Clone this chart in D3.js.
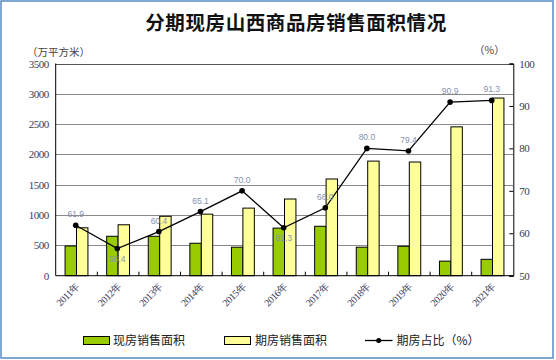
<!DOCTYPE html>
<html><head><meta charset="utf-8">
<script src="https://cdn.jsdelivr.net/npm/d3@7"></script>
<style>body{margin:0;background:#fff;} svg{display:block;}</style>
</head><body>
<svg id="c" width="556" height="360"></svg>
<script>
const years = ["2011年","2012年","2013年","2014年","2015年","2016年","2017年","2018年","2019年","2020年","2021年"];
const spotArea = [490, 650, 650, 535, 470, 785, 815, 470, 485, 240, 270];
const futureArea = [790, 840, 980, 1015, 1115, 1265, 1595, 1890, 1875, 2455, 2930];
const futureShare = [61.9, 56.4, 60.4, 65.1, 70.0, 61.3, 66.0, 80.0, 79.4, 90.9, 91.3];
const leftTicks = [0,500,1000,1500,2000,2500,3000,3500];
const rightTicks = [50,60,70,80,90,100];
const seriesNames = ["现房销售面积","期房销售面积","期房占比（%）"];
const title = "分期现房山西商品房销售面积情况";

const svg = d3.select("#c");
const L = 55.7, R = 513.3, T = 63.5, B = 275.7;
const serif = "'Liberation Serif','DejaVu Serif',serif";
const cjk = "'Noto Sans CJK SC','Noto Sans',sans-serif";

// frame
svg.append("rect").attr("x",1).attr("y",1).attr("width",552).attr("height",357)
  .attr("fill","none").attr("stroke","#5a8ac4").attr("stroke-width",1.5);

svg.append("text").attr("x",296).attr("y",30).attr("text-anchor","middle")
  .attr("font-family",cjk).attr("font-weight","bold").attr("font-size",19.5)
  .attr("letter-spacing","0.6px").attr("fill","#111").text(title);

svg.append("text").attr("x",27).attr("y",56).attr("font-family",cjk).attr("font-size",10.5)
  .attr("fill","#444").text("（万平方米）");
svg.append("text").attr("x",474).attr("y",54).attr("font-family",cjk).attr("font-size",10.5)
  .attr("fill","#444").text("（%）");

const x = d3.scaleBand().domain(years).range([L,R]).padding(0);
const yL = d3.scaleLinear().domain([0,3500]).range([B,T]);
const yR = d3.scaleLinear().domain([50,100]).range([B,T]);
const bw = x.bandwidth()*0.275;

// gridlines
svg.append("g").selectAll("line").data(leftTicks.filter(d=>d>0)).join("line")
  .attr("x1",L).attr("x2",R).attr("y1",d=>Math.round(yL(d))+0.5).attr("y2",d=>Math.round(yL(d))+0.5)
  .attr("stroke",d=>d===3500?"#555":"#8a8a8a").attr("stroke-width",1);

// left axis labels
const gl = svg.append("g").attr("transform",`translate(${L},0)`)
  .call(d3.axisLeft(yL).tickValues(leftTicks).tickSize(0).tickPadding(7).tickFormat(d3.format("d")));
gl.select(".domain").remove();
gl.selectAll("text").attr("font-family",serif).attr("font-size",11).attr("fill","#3a3a5a").attr("letter-spacing","-0.5px");

// right axis
const gr = svg.append("g").attr("transform",`translate(${R},0)`)
  .call(d3.axisRight(yR).tickValues(rightTicks).tickSize(-4).tickPadding(6).tickFormat(d3.format("d")));
gr.select(".domain").attr("stroke","#000");
gr.selectAll(".tick line").attr("stroke","#000");
gr.selectAll("text").attr("font-family",serif).attr("font-size",11).attr("fill","#3a3a5a").attr("letter-spacing","-0.5px");

// bars
svg.append("g").selectAll("rect").data(years).join("rect")
  .attr("x",d=>x(d)+x.bandwidth()/2-bw).attr("width",bw)
  .attr("y",(d,i)=>yL(spotArea[i])).attr("height",(d,i)=>B-yL(spotArea[i]))
  .attr("fill","#99cc00").attr("stroke","#000").attr("stroke-width",1);
svg.append("g").selectAll("rect").data(years).join("rect")
  .attr("x",d=>x(d)+x.bandwidth()/2).attr("width",bw)
  .attr("y",(d,i)=>yL(futureArea[i])).attr("height",(d,i)=>B-yL(futureArea[i]))
  .attr("fill","#ffff99").attr("stroke","#000").attr("stroke-width",1);

// left axis line
svg.append("line").attr("x1",L).attr("x2",L).attr("y1",T).attr("y2",B).attr("stroke","#000");

// bottom axis
const gb = svg.append("g").attr("transform",`translate(0,${B})`);
gb.append("line").attr("x1",L).attr("x2",R).attr("y1",0).attr("y2",0).attr("stroke","#000");
gb.selectAll("line.t").data(years.slice(1)).join("line").attr("class","t")
  .attr("x1",d=>x(d)).attr("x2",d=>x(d)).attr("y1",0).attr("y2",-4).attr("stroke","#000");
gb.selectAll("text").data(years).join("text")
  .attr("transform",d=>`translate(${x(d)+x.bandwidth()/2+1},${9}) rotate(-45)`)
  .attr("text-anchor","end").attr("dy","0.35em")
  .attr("font-family",serif).attr("font-size",10).attr("fill","#3a3a5a").attr("letter-spacing","-0.4px")
  .text(d=>d);

// line
const cx = d=>x(d)+x.bandwidth()/2 - 0.8;
const line = d3.line().x((d,i)=>cx(years[i])).y(d=>yR(d));
svg.append("path").datum(futureShare).attr("d",line).attr("fill","none").attr("stroke","#000").attr("stroke-width",1.3);
svg.append("g").selectAll("circle").data(futureShare).join("circle")
  .attr("cx",(d,i)=>cx(years[i])).attr("cy",d=>yR(d)).attr("r",2.8).attr("fill","#000");

// labels
const below = (i)=> i>0 && i<futureShare.length-1 && futureShare[i] < futureShare[i-1]-2 && futureShare[i] < futureShare[i+1]-2;
svg.append("g").selectAll("text").data(futureShare).join("text")
  .attr("x",(d,i)=>cx(years[i]))
  .attr("y",(d,i)=>yR(d) + (below(i)? 13 : -8))
  .attr("text-anchor","middle").attr("font-family","'Liberation Sans',Arial,sans-serif")
  .attr("font-size",8.5).attr("fill","#8592b0")
  .text(d=>d.toFixed(1));

// legend
const lg = svg.append("g").attr("font-family",cjk).attr("font-size",12).attr("fill","#222");
lg.append("rect").attr("x",83.5).attr("y",336.5).attr("width",26).attr("height",8).attr("fill","#99cc00").attr("stroke","#000");
lg.append("text").attr("x",113).attr("y",345).text(seriesNames[0]);
lg.append("rect").attr("x",224.5).attr("y",336.5).attr("width",26).attr("height",8).attr("fill","#ffff99").attr("stroke","#000");
lg.append("text").attr("x",255).attr("y",345).text(seriesNames[1]);
lg.append("line").attr("x1",365).attr("x2",392.5).attr("y1",340.5).attr("y2",340.5).attr("stroke","#000").attr("stroke-width",1.3);
lg.append("circle").attr("cx",378.7).attr("cy",340.5).attr("r",2.5).attr("fill","#000");
lg.append("text").attr("x",396.5).attr("y",345).text(seriesNames[2]);
</script>
</body></html>
